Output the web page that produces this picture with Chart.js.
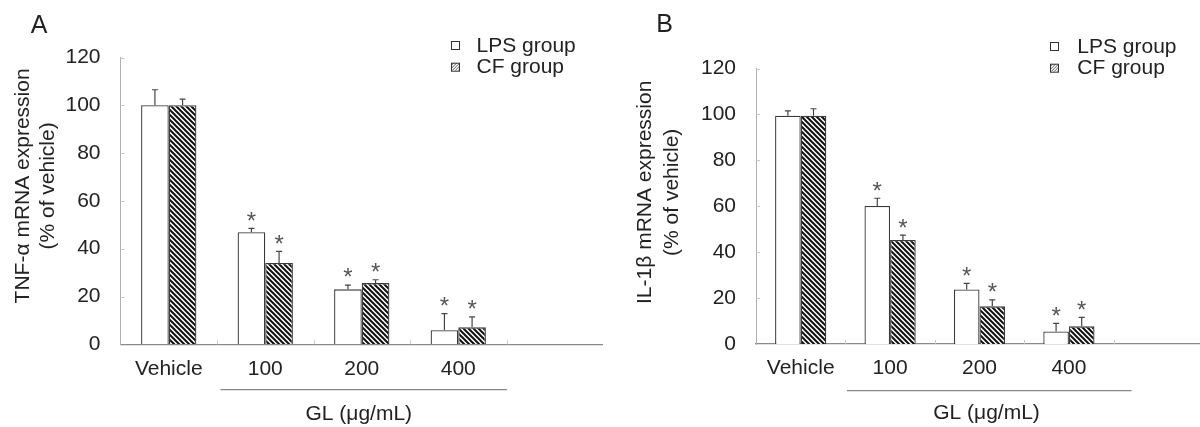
<!DOCTYPE html>
<html>
<head>
<meta charset="utf-8">
<script src="https://cdn.jsdelivr.net/npm/chart.js@4.4.1/dist/chart.umd.min.js"></script>
<style>
  html, body { margin: 0; padding: 0; background: #fff; width: 1200px; height: 427px; overflow: hidden; }
  canvas { position: absolute; top: 0; }
  #cA { left: 0; }
  #cB { left: 600px; }
</style>
</head>
<body>
<canvas id="cA" width="603" height="427"></canvas>
<canvas id="cB" width="603" height="427"></canvas>
<script>
// ---------------- DATA ----------------
const categories = ['Vehicle', '100', '200', '400', ''];
const seriesNames = ['LPS group', 'CF group'];
const yTickValues = [0, 20, 40, 60, 80, 100, 120];

// Panel A: TNF-alpha
const tnfLPS    = [100, 46.9, 23.0, 5.9, null];
const tnfLPSErr = [6.5, 1.6, 1.8, 6.9, null];
const tnfCF     = [100, 34.0, 25.6, 7.1, null];
const tnfCFErr  = [2.6, 4.9, 1.4, 4.4, null];
const tnfSig    = [false, true, true, true, false];

// Panel B: IL-1beta
const ilLPS     = [99.5, 60.1, 23.8, 5.5, null];
const ilLPSErr  = [2.1, 3.4, 2.6, 3.5, null];
const ilCF      = [99.5, 45.3, 16.4, 7.7, null];
const ilCFErr   = [3.0, 2.1, 2.8, 3.9, null];
const ilSig     = [false, true, true, true, false];

// ---------------- STYLE ----------------
const FONT = "'Liberation Sans', Arial, Helvetica, sans-serif";
const TXT = '#222';

function hatchPattern() {
  const s = 5;
  const c = document.createElement('canvas');
  c.width = s; c.height = s;
  const g = c.getContext('2d');
  g.fillStyle = '#fff'; g.fillRect(0, 0, s, s);
  g.strokeStyle = '#111'; g.lineWidth = 2;
  g.beginPath();
  g.moveTo(-1, -1); g.lineTo(s + 1, s + 1);
  g.moveTo(-1, s - 1); g.lineTo(1, s + 1);
  g.moveTo(s - 1, -1); g.lineTo(s + 1, 1);
  g.stroke();
  return c;
}

const decorPlugin = {
  id: 'decor',
  afterLayout(chart, args, o) {
    const y = chart.scales.y;
    if (y._shifted) return;
    const orig = y.drawTitle;
    y.drawTitle = function () {
      const ctx = this.ctx;
      ctx.save();
      ctx.translate(0, o.titleShift);
      orig.apply(this, arguments);
      ctx.restore();
    };
    y._shifted = true;
  },
  afterDatasetsDraw(chart, args, o) {
    const ctx = chart.ctx;
    const x = chart.scales.x, y = chart.scales.y;
    ctx.save();
    // inner tick marks on y axis
    ctx.strokeStyle = '#c8c8c8'; ctx.lineWidth = 1;
    yTickValues.forEach(v => {
      if (v === 0) return;
      const py = Math.round(y.getPixelForValue(v)) + 0.5;
      ctx.beginPath(); ctx.moveTo(x.left, py); ctx.lineTo(x.left + 4, py); ctx.stroke();
    });
    // inner tick marks on x axis at category boundaries
    const w = x.width / categories.length;
    for (let i = 1; i < categories.length; i++) {
      const px = Math.round(x.left + w * i) + 0.5;
      ctx.beginPath(); ctx.moveTo(px, y.bottom); ctx.lineTo(px, y.bottom - 4); ctx.stroke();
    }
    // error bars + asterisks
    chart.data.datasets.forEach((ds, di) => {
      const meta = chart.getDatasetMeta(di);
      meta.data.forEach((bar, i) => {
        const v = ds.data[i];
        if (v === null || v === undefined) return;
        const e = ds.errors[i];
        const top = y.getPixelForValue(v + e);
        const bx = bar.x;
        ctx.strokeStyle = '#444'; ctx.lineWidth = 1.2;
        ctx.beginPath();
        ctx.moveTo(bx, bar.y); ctx.lineTo(bx, top);
        ctx.moveTo(bx - 3, top); ctx.lineTo(bx + 3, top);
        ctx.stroke();
        if (ds.sig[i]) {
          ctx.fillStyle = '#555';
          ctx.font = '24px ' + FONT;
          ctx.textAlign = 'center';
          ctx.textBaseline = 'alphabetic';
          ctx.fillText('*', bx, top - 13.5 + 0.575 * 24);
        }
      });
    });
    ctx.restore();
  },
  afterDraw(chart, args, o) {
    const ctx = chart.ctx;
    const x = chart.scales.x;
    const w = x.width / categories.length;
    ctx.save();
    // panel letter
    ctx.fillStyle = TXT;
    ctx.font = '25px ' + FONT;
    ctx.textAlign = 'center';
    ctx.textBaseline = 'middle';
    ctx.fillText(o.letter, o.letterX, o.letterY);
    // legend
    const lx = chart.chartArea.right - o.legendRight;
    seriesNames.forEach((name, k) => {
      const cy = o.legendY + k * 21.7;
      ctx.lineWidth = 1;
      ctx.strokeStyle = '#333';
      ctx.fillStyle = '#fff';
      ctx.fillRect(lx, cy - 4, 8, 8);
      if (k === 1) {
        ctx.save();
        ctx.beginPath(); ctx.rect(lx, cy - 4, 8, 8); ctx.clip();
        ctx.strokeStyle = '#555'; ctx.lineWidth = 1;
        for (let t = -8; t <= 8; t += 3) {
          ctx.beginPath(); ctx.moveTo(lx + t, cy + 4); ctx.lineTo(lx + t + 8, cy - 4); ctx.stroke();
        }
        ctx.restore();
      }
      ctx.strokeStyle = '#333';
      ctx.strokeRect(lx + 0.5, cy - 3.5, 8, 8);
      ctx.fillStyle = TXT;
      ctx.font = '21px ' + FONT;
      ctx.textAlign = 'left';
      ctx.textBaseline = 'middle';
      ctx.fillText(name, lx + 8 + o.legendGap, cy + 1);
    });
    // GL underline + label
    const l0 = x.left + w + o.lineStartExtra;
    const l1 = x.left + 4 * w + o.lineEndExtra;
    ctx.strokeStyle = '#888'; ctx.lineWidth = 1.2;
    ctx.beginPath(); ctx.moveTo(l0, o.lineY); ctx.lineTo(l1, o.lineY); ctx.stroke();
    ctx.fillStyle = TXT;
    ctx.font = '21px ' + FONT;
    ctx.textAlign = 'center';
    ctx.textBaseline = 'middle';
    ctx.fillText('GL (\u03bcg/mL)', x.getPixelForValue(2) + o.glOffset, o.glY);
    ctx.restore();
  }
};

function makeChart(id, lps, lpsErr, cf, cfErr, sig, yTitle, cfg) {
  const pattern = document.getElementById(id).getContext('2d').createPattern(hatchPattern(), 'repeat');
  return new Chart(document.getElementById(id), {
    type: 'bar',
    data: {
      labels: categories,
      datasets: [
        { label: seriesNames[0], data: lps, errors: lpsErr, sig: sig,
          backgroundColor: '#fff', borderColor: '#3a3a3a', borderWidth: 1.3 },
        { label: seriesNames[1], data: cf, errors: cfErr, sig: sig,
          backgroundColor: pattern, borderColor: '#3a3a3a', borderWidth: 1.3 }
      ]
    },
    options: {
      responsive: false,
      animation: false,
      devicePixelRatio: 1,
      layout: { padding: { top: cfg.top, left: 0, right: 0, bottom: 0 } },
      datasets: { bar: { categoryPercentage: 0.573, barPercentage: 1.0 } },
      plugins: {
        legend: { display: false },
        tooltip: { enabled: false },
        decor: cfg.decor
      },
      scales: {
        x: {
          grid: { display: false, drawTicks: false },
          border: { display: true, color: '#8a8a8a', width: 1.2 },
          ticks: { color: TXT, font: { family: FONT, size: 21 }, padding: 12, maxRotation: 0, autoSkip: false },
          afterFit: s => { s.height = cfg.xHeight; }
        },
        y: {
          min: 0, max: 120,
          afterBuildTicks: s => { s.ticks = yTickValues.map(v => ({ value: v })); },
          grid: { display: false, drawTicks: false },
          border: { display: true, color: '#b0b0b0', width: 1 },
          ticks: { color: TXT, font: { family: FONT, size: 21 }, padding: 20 },
          title: {
            display: true, text: yTitle, color: TXT,
            font: { family: FONT, size: 21, lineHeight: cfg.titleLH },
            padding: { top: cfg.titlePad, bottom: 0 }
          },
          afterFit: s => { s.width = cfg.yWidth; }
        }
      }
    },
    plugins: [decorPlugin]
  });
}

makeChart('cA', tnfLPS, tnfLPSErr, tnfCF, tnfCFErr, tnfSig,
  ['TNF-\u03b1 mRNA expression', '(% of vehicle)'],
  { top: 57.5, xHeight: 82.7, yWidth: 120.5, titleLH: 1.2, titlePad: 10.5,
    decor: { letter: 'A', letterX: 39, letterY: 26, legendRight: 152, legendY: 45, legendGap: 17.5,
             lineStartExtra: 3.5, lineEndExtra: 0.5, lineY: 389.7, glOffset: -3, glY: 414, titleShift: -15 } });

makeChart('cB', ilLPS, ilLPSErr, ilCF, ilCFErr, ilSig,
  ['IL-1\u03b2 mRNA expression', '(% of vehicle)'],
  { top: 68.6, xHeight: 83, yWidth: 156, titleLH: 1.27, titlePad: 31.7,
    decor: { letter: 'B', letterX: 64.7, letterY: 25, legendRight: 153, legendY: 46, legendGap: 19.3,
             lineStartExtra: 1.5, lineEndExtra: 18, lineY: 390.7, glOffset: 7, glY: 413, titleShift: -14 } });
</script>
</body>
</html>
